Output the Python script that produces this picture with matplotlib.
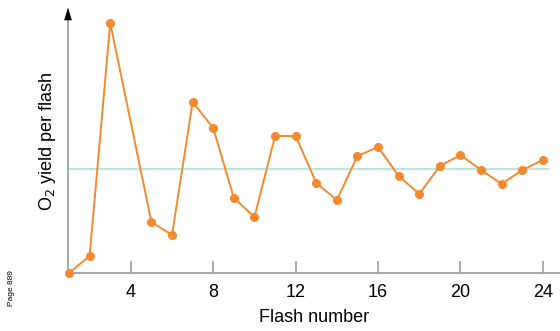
import matplotlib.pyplot as plt
import numpy as np

plt.rcParams['font.family'] = ['Liberation Sans', 'DejaVu Sans']

flash = [1, 2, 3, 5, 6, 7, 8, 9, 10, 11, 12, 13, 14, 15, 16, 17, 18, 19, 20, 21, 22, 23, 24]
o2_yield = [0, 17, 250, 51, 38, 171, 145, 75, 56, 137, 137, 90, 73, 117, 126,
            97, 79, 107, 118, 103, 89, 103, 113]
steady_level = 104
xticks = [4, 8, 12, 16, 20, 24]

orange = "#F5892F"
green = "#A8E0CC"
axis_gray = "#A0A0A0"

fig = plt.figure(figsize=(5.6, 3.31), dpi=100)
ax = fig.add_axes([0.1214, 0.1752, 0.8786, 0.7946])

ax.plot([1, 24.3], [steady_level, steady_level], color=green, lw=1.1, zorder=1)
ax.plot(flash, o2_yield, color=orange, lw=1.4, marker="o", ms=5.5,
        clip_on=False, zorder=3)

ax.set_xlim(0.95, 24.83)
ax.set_ylim(0, 263)

for s in ["top", "right"]:
    ax.spines[s].set_visible(False)
for s in ["left", "bottom"]:
    ax.spines[s].set_color(axis_gray)
    ax.spines[s].set_linewidth(1.3)

ax.set_xticks(xticks)
ax.set_yticks([])
ax.tick_params(axis="x", direction="in", length=9, width=1.2, color=axis_gray,
               labelsize=13, pad=8)

# arrow head on the y axis
ax.annotate("", xy=(0.95, 268), xytext=(0.95, 250),
            arrowprops=dict(arrowstyle="-|>,head_width=0.28,head_length=0.9",
                        color="black", lw=0), annotation_clip=False)

ax.set_xlabel("Flash number", fontsize=13, labelpad=6)
ax.set_ylabel(r"O$_2$ yield per flash", fontsize=13, labelpad=7)

fig.text(0.02, 0.13, "Page 889", rotation=90, fontsize=6, ha="center", va="center")

fig.savefig("out.png", dpi=100)
